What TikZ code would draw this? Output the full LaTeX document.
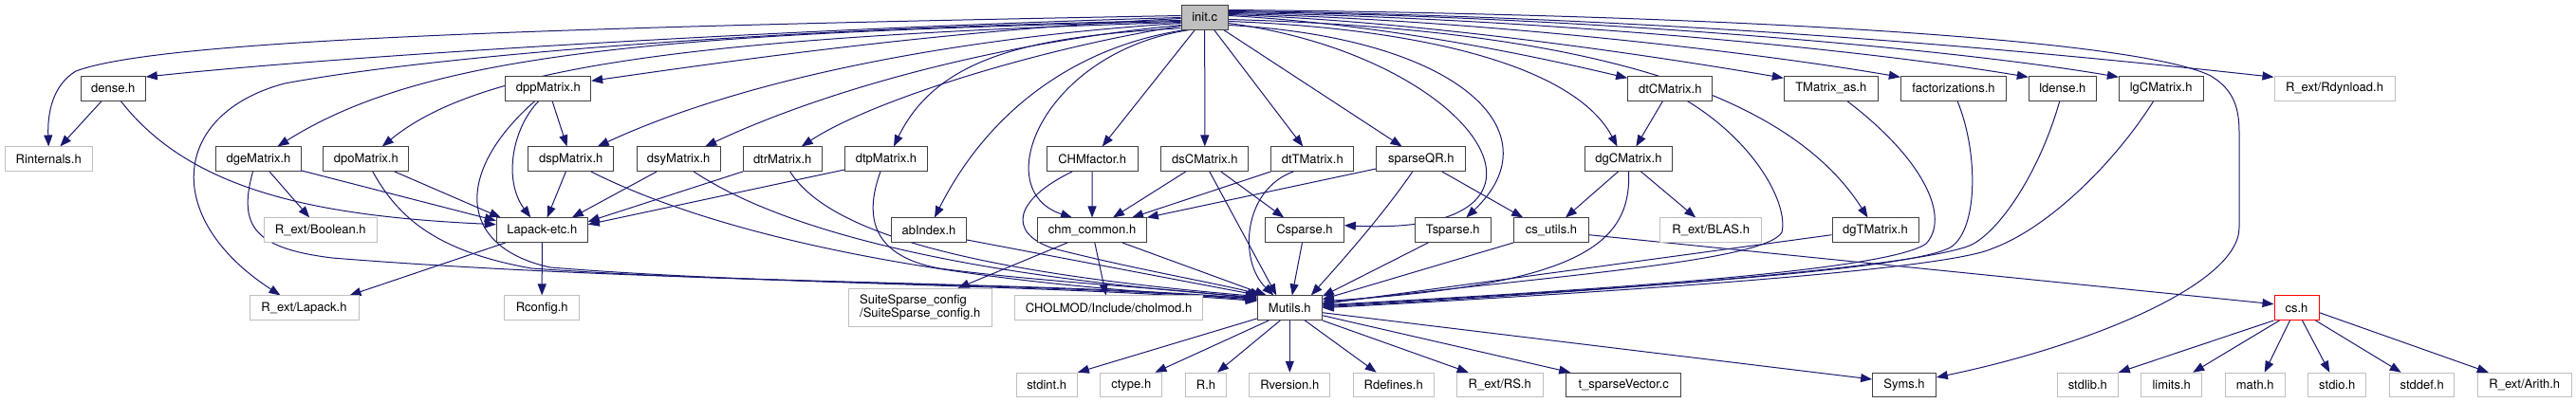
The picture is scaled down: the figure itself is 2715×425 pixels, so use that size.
\documentclass[tikz,border=0pt]{standalone}
\usepackage{fontspec}
\setmainfont{TeX Gyre Heros}
\usetikzlibrary{arrows.meta, calc, backgrounds}
\definecolor{incblue}{HTML}{191970}
\definecolor{incdark}{HTML}{404040}
\definecolor{incgrey}{HTML}{BFBFBF}
\tikzset{
  hdr/.style={
    draw=incdark, line width=1pt, fill=white, inner sep=0pt,
    minimum height=25.5pt, font=\fontsize{13pt}{15pt}\selectfont},
  syshdr/.style={hdr, draw=incgrey},
  roothdr/.style={hdr, fill=incgrey},
  nodoc/.style={hdr, draw=red},
  inc/.style={draw=incblue, line width=1pt, -{Triangle[length=12pt,width=9pt]}},
}

\begin{document}
\begin{tikzpicture}[x=1pt, y=-1pt]
  \useasboundingbox (0,0) rectangle (2715,425);
  % root
  \node[roothdr, minimum width=49.3pt] (init) at (1269.7,18.5) {init.c};
  % first row
  \node[hdr, minimum width=68pt]      (dense)  at (119.3,93.3)  {dense.h};
  \node[hdr, minimum width=89.7pt]    (dpp)    at (577.8,93.3)  {dppMatrix.h};
  \node[hdr, minimum width=89.3pt]    (dtc)    at (1760.3,93.3) {dtCMatrix.h};
  \node[hdr, minimum width=99pt]      (tmas)   at (1929.8,93.3) {TMatrix\_as.h};
  \node[hdr, minimum width=111.3pt]   (fact)   at (2059,93.3)   {factorizations.h};
  \node[hdr, minimum width=71pt]      (ldense) at (2173.8,93.3) {ldense.h};
  \node[hdr, minimum width=88.7pt]    (lgc)    at (2277.7,93.3) {lgCMatrix.h};
  \node[syshdr, minimum width=127pt]  (rdyn)   at (2460.5,93.3) {R\_ext/Rdynload.h};
  % second row
  \node[syshdr, minimum width=92.3pt] (rint) at (51.2,167.7)   {Rinternals.h};
  \node[hdr, minimum width=89.7pt]    (dge)  at (272.5,167.7)  {dgeMatrix.h};
  \node[hdr, minimum width=89.7pt]    (dpo)  at (385.8,167.7)  {dpoMatrix.h};
  \node[hdr, minimum width=89.7pt]    (dsp)  at (601.8,167.7)  {dspMatrix.h};
  \node[hdr, minimum width=88.3pt]    (dsy)  at (715.2,167.7)  {dsyMatrix.h};
  \node[hdr, minimum width=82.7pt]    (dtr)  at (824.7,167.7)  {dtrMatrix.h};
  \node[hdr, minimum width=86.7pt]    (dtp)  at (934,167.7)    {dtpMatrix.h};
  \node[hdr, minimum width=96.3pt]    (chmf) at (1151.2,167.7) {CHMfactor.h};
  \node[hdr, minimum width=92.3pt]    (dsc)  at (1269.8,167.7) {dsCMatrix.h};
  \node[hdr, minimum width=86.7pt]    (dtt)  at (1383.3,167.7) {dtTMatrix.h};
  \node[hdr, minimum width=93.7pt]    (sqr)  at (1497.8,167.7) {sparseQR.h};
  \node[hdr, minimum width=92.3pt]    (dgc)  at (1716.5,167.7) {dgCMatrix.h};
  % third row
  \node[syshdr, minimum width=119pt]  (bool)   at (337.8,242.7)  {R\_ext/Boolean.h};
  \node[hdr, minimum width=96pt]      (lapack) at (571.3,242.7)  {Lapack-etc.h};
  \node[hdr, minimum width=78.7pt]    (abidx)  at (979,242.7)    {abIndex.h};
  \node[hdr, minimum width=114.7pt]   (chmc)   at (1151,242.7)   {chm\_common.h};
  \node[hdr, minimum width=82.7pt]    (csp)    at (1375,242.7)   {Csparse.h};
  \node[hdr, minimum width=80pt]      (tsp)    at (1531.3,242.7) {Tsparse.h};
  \node[hdr, minimum width=78.7pt]    (csu)    at (1635,242.7)   {cs\_utils.h};
  \node[syshdr, minimum width=107pt]  (blas)   at (1803.2,242.7) {R\_ext/BLAS.h};
  \node[hdr, minimum width=91pt]      (dgt)    at (1976.5,242.7) {dgTMatrix.h};
  % fourth row
  \node[syshdr, minimum width=115pt]  (rlapack) at (320.5,324.7)  {R\_ext/Lapack.h};
  \node[syshdr, minimum width=79pt]   (rconf)   at (571.2,324.7)  {Rconfig.h};
  \node[syshdr, minimum width=150.7pt, minimum height=40pt, align=left,
        font=\fontsize{13pt}{14pt}\selectfont]
        (ssc) at (969.7,324.3) {SuiteSparse\_config\\/SuiteSparse\_config.h};
  \node[syshdr, minimum width=198.3pt] (cholmod) at (1168.5,324.7) {CHOLMOD/Include/cholmod.h};
  \node[hdr, minimum width=68pt]      (mut)     at (1359.3,324.7) {Mutils.h};
  \node[nodoc, minimum width=47pt]    (csh)     at (2420.5,324.7) {cs.h};
  % bottom row
  \node[syshdr, minimum width=64.3pt] (stdint) at (1103.2,406) {stdint.h};
  \node[syshdr, minimum width=65.3pt] (ctype)  at (1192.3,406) {ctype.h};
  \node[syshdr, minimum width=42.7pt] (rh)     at (1271,406)   {R.h};
  \node[syshdr, minimum width=85.3pt] (rver)   at (1359.3,406) {Rversion.h};
  \node[syshdr, minimum width=85.3pt] (rdef)   at (1468.7,406) {Rdefines.h};
  \node[syshdr, minimum width=90.7pt] (rs)     at (1580.7,406) {R\_ext/RS.h};
  \node[hdr, minimum width=121pt]     (tsv)    at (1711.2,406) {t\_sparseVector.c};
  \node[hdr, minimum width=66.7pt]    (syms)   at (2007,406)   {Syms.h};
  \node[syshdr, minimum width=64pt]   (stdlib) at (2200.3,406) {stdlib.h};
  \node[syshdr, minimum width=64pt]   (limits) at (2288.7,406) {limits.h};
  \node[syshdr, minimum width=62.7pt] (math)   at (2376.7,406) {math.h};
  \node[syshdr, minimum width=61.3pt] (stdio)  at (2463.3,406) {stdio.h};
  \node[syshdr, minimum width=68pt]   (stddef) at (2552.7,406) {stddef.h};
  \node[syshdr, minimum width=99pt]   (arith)  at (2660.8,406) {R\_ext/Arith.h};

  \begin{scope}[on background layer]
  % init.c, left side
  \draw[inc] ($(init.west)+(0,-2)$) .. controls (500,30) and (160,45) .. (80,75)
        .. controls (55,90) and (50,120) .. (rint.north);
  \draw[inc] (init.west) .. controls (900,28) and (400,55) .. ($(dense.north east)+(0,1)$);
  \draw[inc] ($(init.west)+(0,3)$) .. controls (800,30) and (450,60) .. (300,88)
        .. controls (180,120) and (170,230) .. ($(rlapack.north)+(-25,0)$);
  \draw[inc] ($(init.west)+(0,4)$) .. controls (700,35) and (450,55) .. ($(dge.north)+(20,0)$);
  \draw[inc] ($(init.west)+(0,5)$) .. controls (700,40) and (500,75) .. ($(dpo.north)+(17,0)$);
  \draw[inc] ($(init.west)+(0,1)$) .. controls (1000,32) and (800,60) .. ($(dpp.east)+(0,-8)$);
  \draw[inc] ($(init.west)+(0,6)$) .. controls (1000,40) and (780,85) .. ($(dsp.north)+(28,0)$);
  \draw[inc] ($(init.west)+(0,8)$) .. controls (1050,45) and (870,95) .. ($(dsy.north)+(28,0)$);
  \draw[inc] ($(init.west)+(0,9)$) .. controls (1100,50) and (920,105) .. ($(dtr.north)+(20,0)$);
  \draw[inc] ($(init.south west)+(0,-2)$) .. controls (1100,38) and (990,55) .. ($(dtp.north)+(8,0)$);
  \draw[inc] ($(init.south west)+(3,0)$) .. controls (1130,50) and (1040,120) .. ($(abidx.north)+(6,0)$);
  \draw[inc] ($(init.south west)+(8,0)$) .. controls (1100,55) and (1040,200) .. ($(chmc.north)+(-21,0)$);
  % init.c, straight down
  \draw[inc] (init) -- (chmf);
  \draw[inc] (init) -- (dsc);
  \draw[inc] (init) -- (dtt);
  \draw[inc] (init) -- (sqr);
  % init.c, right side
  \draw[inc] ($(init.east)+(0,6)$) .. controls (1560,60) and (1680,250) .. ($(csp.east)+(0,-5)$);
  \draw[inc] ($(init.east)+(0,8)$) .. controls (1540,40) and (1640,140) .. ($(tsp.north)+(14,0)$);
  \draw[inc] ($(init.east)+(0,4)$) .. controls (1500,30) and (1660,70) .. ($(dgc.north)+(-12,0)$);
  \draw[inc] ($(init.east)+(0,2)$) .. controls (1650,30) and (1880,90) .. ($(dgt.north)+(-8,0)$);
  \draw[inc] ($(init.east)+(0,-2)$) .. controls (1450,25) and (1600,55) .. ($(dtc.west)+(0,-11)$);
  \draw[inc] ($(init.east)+(0,-3)$) .. controls (1500,22) and (1750,60) .. ($(tmas.west)+(0,-11)$);
  \draw[inc] ($(init.east)+(0,-4)$) .. controls (1550,20) and (1850,55) .. ($(fact.west)+(0,-12)$);
  \draw[inc] ($(init.east)+(0,-5)$) .. controls (1600,18) and (1950,50) .. ($(ldense.west)+(0,-12)$);
  \draw[inc] ($(init.east)+(0,-6)$) .. controls (1650,16) and (2050,50) .. ($(lgc.west)+(0,-12)$);
  \draw[inc] ($(init.east)+(0,-7)$) .. controls (1800,18) and (2200,60) .. ($(rdyn.west)+(0,-12)$);
  \draw[inc] ($(init.east)+(0,-8)$) .. controls (1800,15) and (2250,40) .. (2330,80)
        .. controls (2355,95) and (2360,115) .. (2360,140) -- (2360,240)
        .. controls (2360,300) and (2200,365) .. ($(syms.east)+(0,-8)$);

  % dense matrices
  \draw[inc] (dense) -- (rint);
  \draw[inc] ($(dense.south)+(8,0)$) .. controls (200,200) and (330,228) .. ($(lapack.west)+(0,-6)$);
  \draw[inc] (dge) -- (bool);
  \draw[inc] ($(dge.south east)+(0,-1)$) -- ($(lapack.west)+(0,-10)$);
  \draw[inc] ($(dge.south)+(-6,0)$) .. controls (250,240) and (270,262) .. (350,272)
        .. controls (700,300) and (1100,296) .. ($(mut.north west)+(0,4)$);
  \draw[inc] ($(dpo.south)+(30,0)$) -- ($(lapack.north west)+(5,0)$);
  \draw[inc] ($(dpo.south)+(7,0)$) .. controls (420,230) and (460,265) .. (560,283)
        .. controls (800,300) and (1100,298) .. ($(mut.north west)+(0,5)$);
  \draw[inc] (dpp) -- (dsp);
  \draw[inc] ($(dpp.south)+(-10,0)$) .. controls (540,135) and (530,190) .. ($(lapack.north)+(-12,0)$);
  \draw[inc] ($(dpp.south)+(-14,0)$) .. controls (480,180) and (480,260) .. (580,282)
        .. controls (800,300) and (1100,300) .. ($(mut.north west)+(0,6)$);
  \draw[inc] (dsp) -- (lapack);
  \draw[inc] ($(dsp.south)+(21,0)$) .. controls (760,250) and (1000,300) .. ($(mut.north west)+(0,3)$);
  \draw[inc] ($(dsy.south)+(-23,0)$) -- ($(lapack.north east)+(-17,0)$);
  \draw[inc] ($(dsy.south)+(16,0)$) .. controls (820,240) and (1000,290) .. ($(mut.north west)+(0,2)$);
  \draw[inc] (dtr.south west) -- ($(lapack.east)+(0,-9)$);
  \draw[inc] ($(dtr.south)+(8,0)$) .. controls (870,240) and (1000,285) .. ($(mut.north west)+(0,1)$);
  \draw[inc] ($(dtp.south west)+(0,-2)$) -- ($(lapack.east)+(0,-6)$);
  \draw[inc] ($(dtp.south)+(-6,0)$) .. controls (910,230) and (920,270) .. (990,283)
        .. controls (1100,298) and (1250,305) .. ($(mut.north west)+(0,4)$);
  \draw[inc] (lapack) -- (rconf);
  \draw[inc] ($(lapack.south west)+(10,0)$) -- ($(rlapack.north east)+(-10,0)$);
  \draw[inc] ($(abidx.south east)+(0,-3)$) -- ($(mut.north west)+(2,0)$);

  % cholmod side
  \draw[inc] (chmf) -- (chmc);
  \draw[inc] ($(chmf.south)+(-21,0)$) .. controls (1070,210) and (1060,245) .. (1110,262)
        .. controls (1200,285) and (1290,300) .. ($(mut.north west)+(5,0)$);
  \draw[inc] ($(chmc.south)+(-26,0)$) -- ($(ssc.north)+(40,0)$);
  \draw[inc] (chmc) -- (cholmod);
  \draw[inc] ($(chmc.south east)+(-26,0)$) -- ($(mut.north west)+(10,0)$);
  \draw[inc] ($(dsc.south)+(-20,0)$) -- ($(chmc.north)+(22,0)$);
  \draw[inc] ($(dsc.south)+(5,0)$) -- ($(mut.north)+(-14,0)$);
  \draw[inc] ($(dsc.south)+(17,0)$) -- ($(csp.north west)+(20,0)$);
  \draw[inc] (dtt.south west) -- ($(chmc.north)+(42,0)$);
  \draw[inc] ($(dtt.south)+(-20,0)$) .. controls (1310,200) and (1305,275) .. ($(mut.north)+(-17,0)$);
  \draw[inc] ($(sqr.south west)+(0,-3)$) -- (chmc.north east);
  \draw[inc] ($(sqr.south)+(-9,0)$) .. controls (1455,230) and (1410,280) .. ($(mut.north east)+(-12,0)$);
  \draw[inc] ($(sqr.south)+(22,0)$) -- ($(csu.north west)+(10,0)$);
  \draw[inc] (csp) -- (mut);
  \draw[inc] ($(tsp.south)+(-26,0)$) -- ($(mut.north east)+(0,1)$);
  \draw[inc] (csu.south west) -- ($(mut.east)+(0,-9)$);
  \draw[inc] ($(csu.east)+(0,5)$) -- ($(csh.west)+(0,-4)$);

  % sparse matrices
  \draw[inc] (dtc) -- (dgc);
  \draw[inc] ($(dgc.south)+(-11,0)$) -- ($(csu.north)+(15,0)$);
  \draw[inc] ($(dgc.south)+(13,0)$) -- ($(blas.north)+(-16,0)$);
  \draw[inc] (dgc.south) .. controls (1720,260) and (1660,300) .. ($(mut.east)+(0,-7)$);
  \draw[inc] ($(dtc.south)+(18,0)$) .. controls (1850,150) and (1885,215) .. (1878,245)
        .. controls (1860,275) and (1650,290) .. ($(mut.east)+(0,-5)$);
  \draw[inc] ($(dgt.west)+(0,5)$) -- ($(mut.east)+(0,-4)$);
  \draw[inc] ($(tmas.south)+(17,0)$) .. controls (2030,170) and (2055,230) .. (2030,257)
        .. controls (1990,285) and (1700,305) .. ($(mut.east)+(0,-3)$);
  \draw[inc] ($(fact.south)+(4,0)$) .. controls (2085,160) and (2085,240) .. (2057,260)
        .. controls (2020,285) and (1700,305) .. ($(mut.east)+(0,-2)$);
  \draw[inc] ($(ldense.south)+(-3,0)$) .. controls (2150,180) and (2110,240) .. (2080,257)
        .. controls (2040,280) and (1700,307) .. ($(mut.east)+(0,-1)$);
  \draw[inc] ($(lgc.south)+(-8,0)$) .. controls (2230,170) and (2160,240) .. (2100,262)
        .. controls (2050,285) and (1700,308) .. (mut.east);

  % Mutils.h
  \draw[inc] ($(mut.south west)+(0,-2)$) -- (stdint.north east);
  \draw[inc] ($(mut.south)+(-22,0)$) -- ($(ctype.north east)+(-8,0)$);
  \draw[inc] ($(mut.south)+(-10,0)$) -- ($(rh.north)+(12,0)$);
  \draw[inc] (mut) -- (rver);
  \draw[inc] ($(mut.south)+(16,0)$) -- ($(rdef.north)+(-18,0)$);
  \draw[inc] (mut.south east) -- ($(rs.north)+(-33,0)$);
  \draw[inc] ($(mut.east)+(0,8)$) -- ($(tsv.north west)+(5,0)$);
  \draw[inc] ($(mut.east)+(0,5)$) -- ($(syms.west)+(0,-6)$);

  % cs.h
  \draw[inc] (csh.south west) -- (stdlib.north east);
  \draw[inc] ($(csh.south west)+(6,0)$) -- ($(limits.north east)+(-10,0)$);
  \draw[inc] ($(csh.south)+(-7,0)$) -- ($(math.north)+(10,0)$);
  \draw[inc] ($(csh.south)+(6,0)$) -- ($(stdio.north)+(-8,0)$);
  \draw[inc] ($(csh.south east)+(-4,0)$) -- ($(stddef.north)+(-22,0)$);
  \draw[inc] ($(csh.east)+(0,5)$) -- ($(arith.north)+(-38,0)$);
  \end{scope}
\end{tikzpicture}
\end{document}
